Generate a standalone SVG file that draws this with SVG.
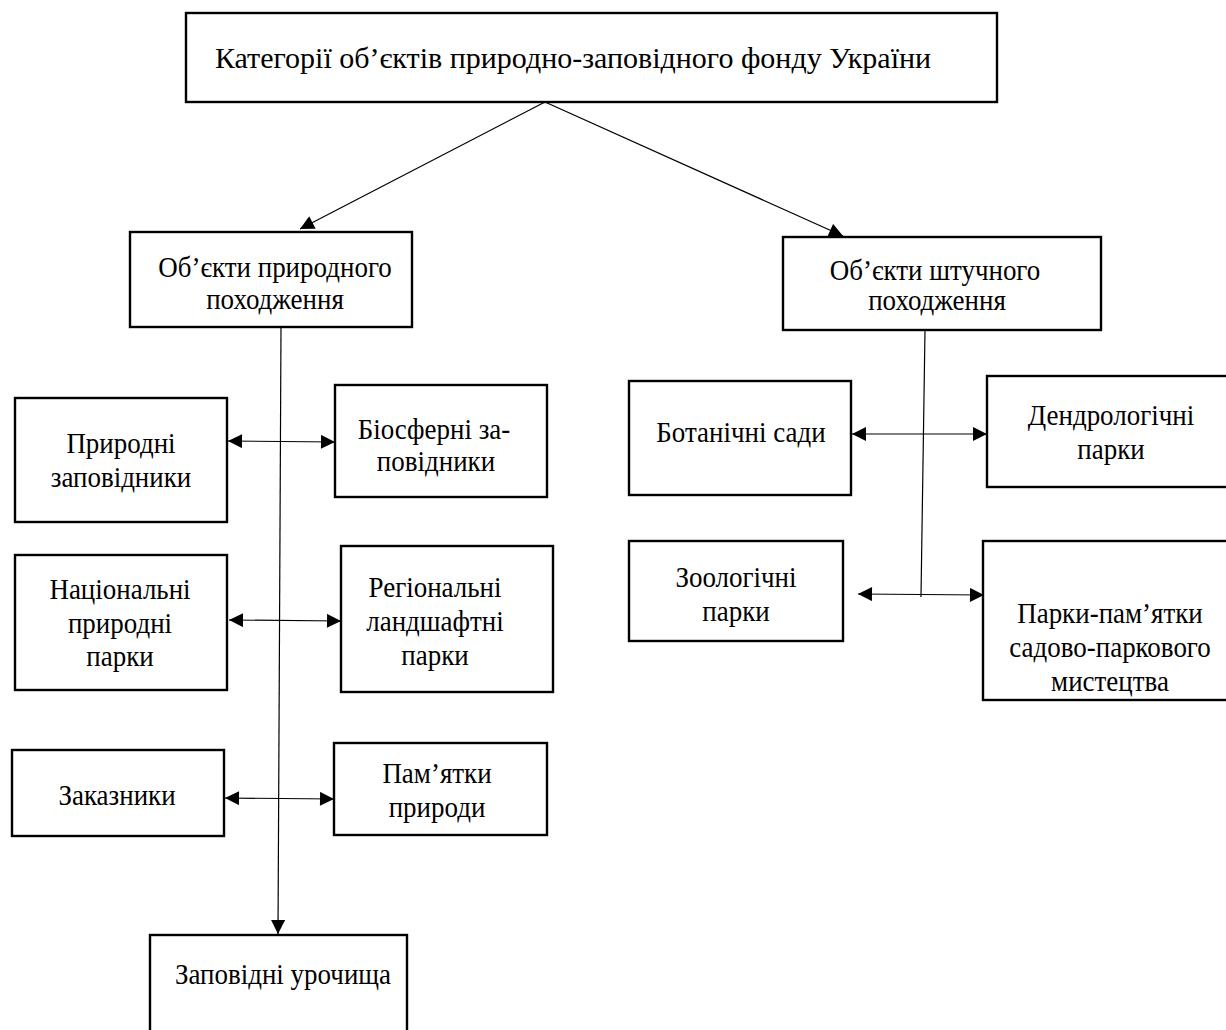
<svg xmlns="http://www.w3.org/2000/svg" width="1226" height="1030" viewBox="0 0 1226 1030">
<defs>
<marker id="ah" viewBox="0 0 10 10" refX="10" refY="5" markerWidth="15" markerHeight="14" markerUnits="userSpaceOnUse" orient="auto-start-reverse">
<path d="M0,0 L10,5 L0,10 Z" fill="#000"/>
</marker>
<style>
.box{fill:#fff;stroke:#000;stroke-width:2.4}
.t{font-family:"Liberation Serif","Times New Roman",serif;font-size:29px;fill:#000;text-anchor:middle}
.tt{font-family:"Liberation Serif","Times New Roman",serif;font-size:30px;fill:#000;text-anchor:middle}
.ln{stroke:#000;stroke-width:1.2;fill:none}
</style>
</defs>
<rect width="1226" height="1030" fill="#fff"/>
<g id="connectors">
<line class="ln" x1="545" y1="102" x2="300" y2="229" marker-end="url(#ah)"/>
<line class="ln" x1="545" y1="102" x2="843" y2="236" marker-end="url(#ah)"/>
<line class="ln" x1="281" y1="327" x2="278" y2="934" marker-end="url(#ah)"/>
<line class="ln" x1="925" y1="330" x2="921" y2="597"/>
<line class="ln" x1="228" y1="441" x2="335" y2="442" marker-start="url(#ah)" marker-end="url(#ah)"/>
<line class="ln" x1="229" y1="620" x2="341" y2="621" marker-start="url(#ah)" marker-end="url(#ah)"/>
<line class="ln" x1="225" y1="798" x2="334" y2="799" marker-start="url(#ah)" marker-end="url(#ah)"/>
<line class="ln" x1="852" y1="434" x2="987" y2="434" marker-start="url(#ah)" marker-end="url(#ah)"/>
<line class="ln" x1="858" y1="594" x2="984" y2="595" marker-start="url(#ah)" marker-end="url(#ah)"/>
</g>
<g id="n-root"><rect class="box" x="186" y="13" width="811" height="89"/><text class="tt" x="573" y="68">Категорії об’єктів природно-заповідного фонду України</text></g>
<g id="n-natural"><rect class="box" x="130" y="232" width="282" height="95"/><text class="t" transform="translate(275,277) scale(0.93,1)">Об’єкти природного</text><text class="t" transform="translate(275,309) scale(0.93,1)">походження</text></g>
<g id="n-artificial"><rect class="box" x="783" y="237" width="318" height="93"/><text class="t" transform="translate(935,280) scale(0.93,1)">Об’єкти штучного</text><text class="t" transform="translate(937,310) scale(0.93,1)">походження</text></g>
<g id="n-zapov"><rect class="box" x="15" y="398" width="212" height="124"/><text class="t" transform="translate(121,453) scale(0.93,1)">Природні</text><text class="t" transform="translate(121,487) scale(0.93,1)">заповідники</text></g>
<g id="n-bios"><rect class="box" x="335" y="385" width="212" height="112"/><text class="t" transform="translate(434,439) scale(0.93,1)">Біосферні за-</text><text class="t" transform="translate(436,471) scale(0.93,1)">повідники</text></g>
<g id="n-npp"><rect class="box" x="15" y="555" width="212" height="135"/><text class="t" transform="translate(120,599) scale(0.93,1)">Національні</text><text class="t" transform="translate(120,633) scale(0.93,1)">природні</text><text class="t" transform="translate(120,666) scale(0.93,1)">парки</text></g>
<g id="n-rlp"><rect class="box" x="341" y="546" width="212" height="146"/><text class="t" transform="translate(435,597) scale(0.93,1)">Регіональні</text><text class="t" transform="translate(435,631) scale(0.93,1)">ландшафтні</text><text class="t" transform="translate(435,665) scale(0.93,1)">парки</text></g>
<g id="n-zak"><rect class="box" x="12" y="750" width="212" height="86"/><text class="t" transform="translate(117,805) scale(0.93,1)">Заказники</text></g>
<g id="n-pam"><rect class="box" x="334" y="743" width="213" height="92"/><text class="t" transform="translate(437,783) scale(0.93,1)">Пам’ятки</text><text class="t" transform="translate(437,817) scale(0.93,1)">природи</text></g>
<g id="n-uroch"><rect class="box" x="150" y="935" width="257" height="100"/><text class="t" transform="translate(283,984) scale(0.93,1)">Заповідні урочища</text></g>
<g id="n-bot"><rect class="box" x="629" y="381" width="222" height="114"/><text class="t" transform="translate(741,442) scale(0.93,1)">Ботанічні сади</text></g>
<g id="n-dendro"><rect class="box" x="987" y="376" width="250" height="111"/><text class="t" transform="translate(1111,425) scale(0.93,1)">Дендрологічні</text><text class="t" transform="translate(1111,459) scale(0.93,1)">парки</text></g>
<g id="n-zoo"><rect class="box" x="629" y="541" width="214" height="100"/><text class="t" transform="translate(736,587) scale(0.93,1)">Зоологічні</text><text class="t" transform="translate(736,621) scale(0.93,1)">парки</text></g>
<g id="n-parks"><rect class="box" x="983" y="541" width="254" height="159"/><text class="t" transform="translate(1110,623) scale(0.93,1)">Парки-пам’ятки</text><text class="t" transform="translate(1110,657) scale(0.93,1)">садово-паркового</text><text class="t" transform="translate(1110,691) scale(0.93,1)">мистецтва</text></g>
</svg>
